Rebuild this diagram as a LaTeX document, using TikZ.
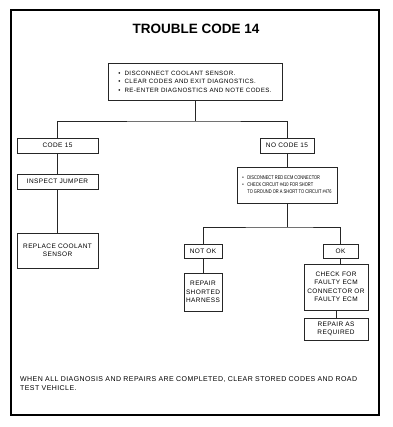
\documentclass[tikz,border=0pt]{standalone}
\usepackage{fontspec}
\setmainfont{Liberation Sans}
\newfontfamily\boxfont[LetterSpace=6]{Liberation Sans}
\newfontfamily\narrowfont[FakeStretch=0.74]{Liberation Sans}
\begin{document}
\begin{tikzpicture}[x=1pt,y=-1pt,
  box/.style={draw=black!85, line width=0.7pt, inner sep=0pt, align=center,
    font=\boxfont\fontsize{6.5}{8.5}\selectfont},
  conn/.style={draw=black!85, line width=0.7pt}]
\useasboundingbox (0,0) rectangle (392,427);
\draw[line width=2pt] (11,10) rectangle (379,415);
\node[font=\bfseries\fontsize{13.5}{15}\selectfont] (title) at (196,29) {TROUBLE CODE 14};

\node[box, minimum width=174pt, minimum height=37pt, align=left,
  font=\boxfont\fontsize{6.2}{8.5}\selectfont] (top) at (195,81.5)
  {\textbullet\hspace{4pt}DISCONNECT COOLANT SENSOR.\\
   \textbullet\hspace{4pt}CLEAR CODES AND EXIT DIAGNOSTICS.\\
   \textbullet\hspace{4pt}RE-ENTER DIAGNOSTICS AND NOTE CODES.};

\node[box, minimum width=81pt, minimum height=15pt] (code15) at (57.5,145.5) {CODE 15};
\node[box, minimum width=81pt, minimum height=15pt] (inspect) at (57.5,181.5) {INSPECT JUMPER};
\node[box, minimum width=81pt, minimum height=35pt] (replace) at (57.5,250.5) {REPLACE COOLANT\\SENSOR};

\node[box, minimum width=54pt, minimum height=15pt] (nocode) at (287,145.5) {NO CODE 15};
\node[box, minimum width=100pt, minimum height=36pt, align=left,
  font=\narrowfont\fontsize{5.4}{7}\selectfont] (ecm) at (287,185)
  {\begin{tabular}{@{}l@{\hspace{3.5pt}}l@{}}
   \textbullet & DISCONNECT RED ECM CONNECTOR\\
   \textbullet & CHECK CIRCUIT \#410 FOR SHORT\\
   & TO GROUND OR A SHORT TO CIRCUIT \#476
   \end{tabular}};

\node[box, minimum width=38pt, minimum height=14pt] (notok) at (203,251) {NOT OK};
\node[box, minimum width=38pt, minimum height=38pt] (repair) at (203,292) {REPAIR\\SHORTED\\HARNESS};
\node[box, minimum width=35pt, minimum height=14pt] (ok) at (340.5,251) {OK};
\node[box, minimum width=64pt, minimum height=46pt] (check) at (336,287) {CHECK FOR\\FAULTY ECM\\CONNECTOR OR\\FAULTY ECM};
\node[box, minimum width=64pt, minimum height=22pt] (reqd) at (336,329) {REPAIR AS\\REQUIRED};

\coordinate (j1) at (195,121);
\coordinate (j2) at (287,227);
\draw[conn] (top.south) -- (j1);
\draw[conn] (code15.north) |- (j1) -| (nocode.north);
\draw[conn] (code15) -- (inspect);
\draw[conn] (inspect) -- (replace);
\draw[conn] (nocode) -- (ecm);
\draw[conn] (ecm.south) -- (j2);
\draw[conn] (notok.north) |- (j2) -| (ok.north);
\draw[conn] (notok) -- (repair);
\draw[conn] (ok.south) -- (ok.south |- check.north);
\draw[conn] (check) -- (reqd);

\node[anchor=north west, align=left, inner sep=0pt,
  font=\boxfont\fontsize{7}{9}\selectfont] (note) at (20,376)
  {WHEN ALL DIAGNOSIS AND REPAIRS ARE COMPLETED, CLEAR STORED CODES AND ROAD\\TEST VEHICLE.};
\end{tikzpicture}
\end{document}
